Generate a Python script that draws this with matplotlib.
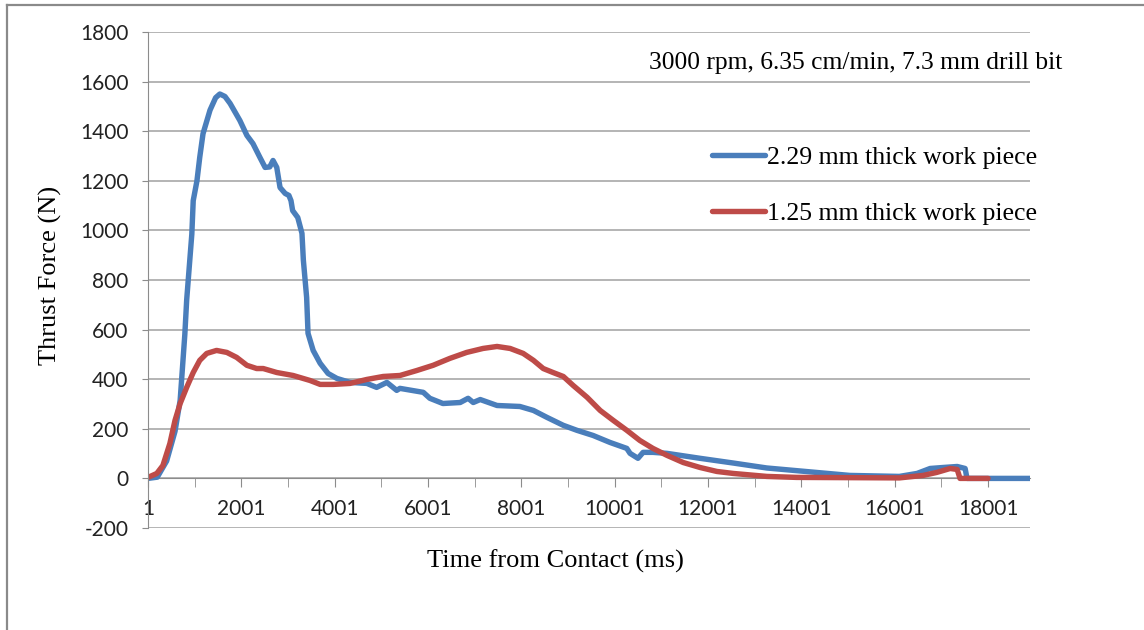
import matplotlib
matplotlib.use("Agg")
import matplotlib.pyplot as plt
from matplotlib.lines import Line2D
import numpy as np

plt.rcParams["axes.unicode_minus"] = False

# readings taken off the reference chart (ms, N)
t_thick = [1, 200, 400, 580, 690, 790, 830, 940, 970, 1050, 1110, 1180, 1330, 1450,
           1540, 1650, 1760, 1970, 2120, 2250, 2400, 2510, 2610, 2680, 2760, 2830,
           2940, 3020, 3065, 3100, 3210, 3300, 3330, 3400, 3430, 3540, 3690, 3860,
           4050, 4330, 4690, 4900, 5120, 5330, 5400, 5900, 6040, 6320, 6690, 6860,
           6970, 7120, 7480, 7970, 8260, 8550, 8900, 9190, 9540, 9900, 10260, 10330,
           10500, 10610, 10820, 11120, 11830, 12540, 12900, 13260, 13970, 15040,
           16100, 16480, 16760, 17040, 17340, 17510, 17550, 18900]
f_thick = [0, 5, 70, 190, 315, 580, 720, 985, 1120, 1200, 1295, 1390, 1485, 1535,
           1550, 1540, 1512, 1443, 1383, 1350, 1294, 1254, 1256, 1282, 1254, 1173,
           1149, 1141, 1120, 1080, 1052, 988, 880, 730, 585, 516, 464, 423,
           403, 387, 383, 367, 387, 355, 363, 347, 323, 302, 306, 323,
           306, 318, 294, 290, 274, 246, 214, 194, 173, 145, 121, 101,
           81, 105, 105, 101, 81, 62, 52, 42, 30, 12,
           8, 20, 40, 44, 48, 40, 0, 0]

t_thin = [1, 190, 320, 470, 580, 690, 830, 970, 1110, 1260, 1470, 1690, 1900, 2120,
          2330, 2470, 2760, 3110, 3470, 3690, 3970, 4330, 4690, 5040, 5400, 5760,
          6110, 6470, 6830, 7180, 7480, 7760, 8040, 8260, 8470, 8680, 8900, 9110,
          9410, 9690, 9970, 10260, 10540, 10820, 11120, 11470, 11830, 12190, 12540,
          13260, 13900, 15040, 16100, 16610, 16900, 17190, 17340, 17400, 18001]
f_thin = [4, 20, 52, 141, 234, 302, 367, 427, 476, 504, 516, 508, 488, 456,
          443, 443, 427, 415, 395, 379, 379, 383, 399, 411, 415, 435,
          456, 484, 508, 524, 532, 524, 504, 476, 443, 427, 411, 375,
          327, 274, 234, 194, 153, 121, 93, 64, 44, 28, 20,
          8, 4, 3, 2, 12, 24, 40, 36, 0, 0]

label_thick = "2.29 mm thick work piece"
label_thin = "1.25 mm thick work piece"
note = "3000 rpm, 6.35 cm/min, 7.3 mm drill bit"

blue = "#4A7EBB"
red = "#BE4B48"
grid_c = "#a0a0a0"
axis_c = "#8c8c8c"

fig = plt.figure(figsize=(11.44, 6.3), dpi=100)
ax = fig.add_axes([148 / 1144, 1 - 528 / 630, 882 / 1144, 496 / 630])

ax.plot(t_thick, f_thick, color=blue, lw=3.9, label=label_thick, solid_capstyle="round")
ax.plot(t_thin, f_thin, color=red, lw=3.9, label=label_thin, solid_capstyle="round")

ax.set_xlim(1, 18900)
ax.set_ylim(-200, 1800)
ax.set_yticks(np.arange(-200, 1801, 200))
ax.set_xticks(np.arange(1, 18002, 2000))
ax.set_xticks(np.arange(1001, 18002, 2000), minor=True)

ax.yaxis.grid(True, color=grid_c, lw=1.1)
ax.set_axisbelow(True)
for s in ["top", "right"]:
    ax.spines[s].set_visible(False)
ax.spines["bottom"].set_position(("data", 0))
ax.spines["bottom"].set_color(axis_c)
ax.spines["left"].set_color(axis_c)
ax.spines["bottom"].set_zorder(1)

ax.tick_params(axis="y", length=4, color=axis_c, pad=10, labelsize=15, labelcolor="#222222")
ax.tick_params(axis="x", which="both", length=6.5, color=axis_c, pad=8, labelsize=15,
               labelcolor="#222222")
for lab in ax.get_xticklabels() + ax.get_yticklabels():
    lab.set_family("Lato")

serif = "Liberation Serif"
fig.text(50 / 1144, 1 - 275 / 630, "Thrust Force (N)", rotation=90, ha="center",
         va="center", family=serif, fontsize=19)
fig.text(555 / 1144, 1 - 561 / 630, "Time from Contact (ms)", ha="center",
         va="center", family=serif, fontsize=19)
fig.text(649 / 1144, 1 - 63 / 630, note, ha="left", va="center",
         family=serif, fontsize=18.4)

leg = fig.legend(loc="upper left", bbox_to_anchor=(712 / 1144, 1 - 146 / 630),
                 frameon=False, prop=dict(family=serif, size=18.5),
                 handlelength=2.05, handletextpad=0.1, labelspacing=1.3,
                 borderpad=0, borderaxespad=0)
for h in leg.get_lines():
    h.set_linewidth(3.9)

# outer chart frame (only left and top edges are visible in the crop)
fig.add_artist(Line2D([7 / 1144, 7 / 1144], [0, 1 - 5 / 630], color="#8a8a8a", lw=1.6))
fig.add_artist(Line2D([7 / 1144, 1], [1 - 5 / 630, 1 - 5 / 630], color="#8a8a8a", lw=1.6))

fig.savefig("out.png", dpi=100)
